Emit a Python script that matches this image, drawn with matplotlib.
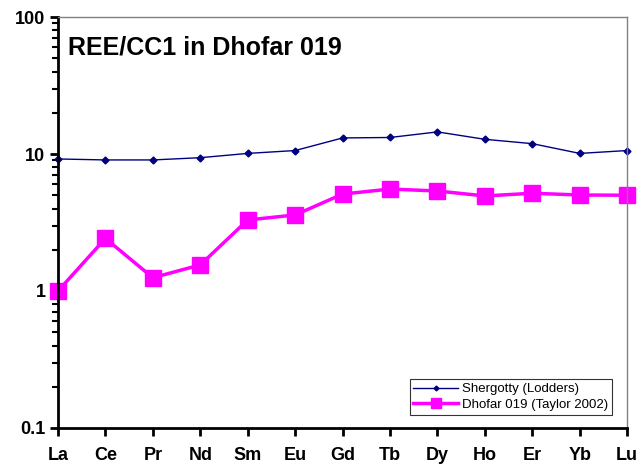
import matplotlib
matplotlib.use("Agg")
import matplotlib.pyplot as plt
from matplotlib.ticker import FixedLocator, FixedFormatter, LogLocator, NullFormatter

plt.rcParams['font.family'] = ['Liberation Sans', 'DejaVu Sans']

# pierwiastki ziem rzadkich
elements = ['La', 'Ce', 'Pr', 'Nd', 'Sm', 'Eu', 'Gd', 'Tb', 'Dy', 'Ho', 'Er', 'Yb', 'Lu']
# wartości znormalizowane do CC1
shergotty = [9.2, 9.05, 9.05, 9.4, 10.1, 10.6, 13.1, 13.2, 14.5, 12.8, 11.9, 10.1, 10.6]
dhofar = [1.0, 2.42, 1.25, 1.55, 3.3, 3.59, 5.1, 5.55, 5.37, 4.94, 5.17, 5.02, 5.0]

fig = plt.figure(figsize=(6.4, 4.7), dpi=100)
ax = fig.add_axes([0.0906, 0.0894, 0.8894, 0.8744])

x = list(range(len(elements)))
ax.plot(x, shergotty, color='#000080', lw=1, marker='D', ms=3.5,
        label='Shergotty (Lodders)', clip_on=False)
ax.plot(x, dhofar, color='#FF00FF', lw=2.5, marker='s', ms=11,
        label='Dhofar 019 (Taylor 2002)', clip_on=False)

ax.set_yscale('log')
ax.set_ylim(0.1, 100)
ax.set_xlim(0, len(elements) - 1)

ax.yaxis.set_major_locator(FixedLocator([0.1, 1, 10, 100]))
ax.yaxis.set_major_formatter(FixedFormatter(['0.1', '1', '10', '100']))
ax.yaxis.set_minor_locator(LogLocator(base=10, subs=range(2, 10)))
ax.yaxis.set_minor_formatter(NullFormatter())

ax.set_xticks(x)
ax.set_xticklabels(elements)

for lab in ax.get_xticklabels() + ax.get_yticklabels():
    lab.set_fontweight('bold')
    lab.set_fontsize(13)

ax.tick_params(axis='x', direction='out', length=6, width=2, pad=8)
ax.tick_params(axis='y', which='major', direction='out', length=6, width=2, pad=3)
ax.tick_params(axis='y', which='minor', direction='out', length=4, width=1.5)

ax.spines['left'].set_linewidth(2)
ax.spines['bottom'].set_linewidth(2)
ax.spines['top'].set_color('#808080')
ax.spines['right'].set_color('#808080')
ax.spines['top'].set_linewidth(1)
ax.spines['right'].set_linewidth(1)

ax.text(0.018, 0.925, 'REE/CC1 in Dhofar 019', transform=ax.transAxes,
        fontsize=18, fontweight='bold', va='center', ha='left')

leg = ax.legend(loc='lower right', bbox_to_anchor=(0.974, 0.032), fontsize=9.5,
                frameon=True, fancybox=False, edgecolor='black',
                borderaxespad=0, handlelength=3.4, handletextpad=0.3,
                borderpad=0.3, labelspacing=0.25, markerscale=0.7)
leg.get_frame().set_linewidth(0.8)

fig.savefig('out.png', dpi=100)
